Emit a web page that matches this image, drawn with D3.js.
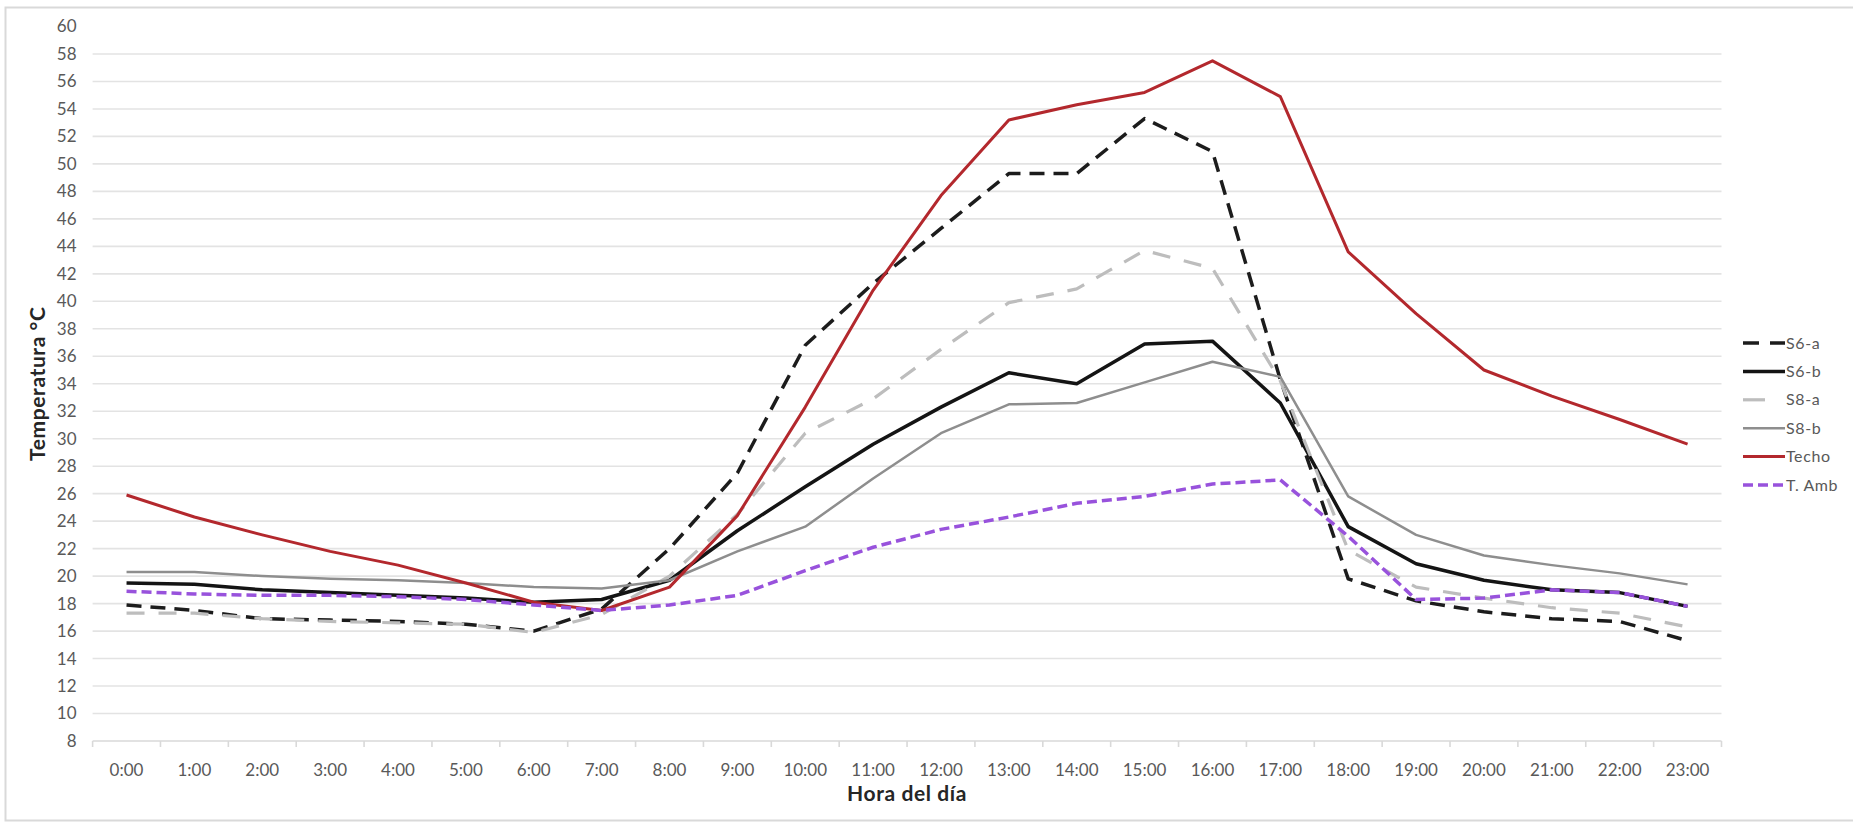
<!DOCTYPE html>
<html>
<head>
<meta charset="utf-8">
<script src="https://cdn.jsdelivr.net/npm/d3@7/dist/d3.min.js"></script>
<style>
  html, body { margin: 0; padding: 0; background: #ffffff; }
  svg { display: block; }
  text { font-family: Lato, "Open Sans", sans-serif; }
</style>
</head>
<body>
<svg id="chart" width="1853" height="822"></svg>
<script>
const hours = ["0:00","1:00","2:00","3:00","4:00","5:00","6:00","7:00","8:00","9:00","10:00","11:00",
               "12:00","13:00","14:00","15:00","16:00","17:00","18:00","19:00","20:00","21:00","22:00","23:00"];
const yTicks = [8,10,12,14,16,18,20,22,24,26,28,30,32,34,36,38,40,42,44,46,48,50,52,54,56,58,60];

const s6a   = [17.9,17.5,16.9,16.8,16.7,16.5,16.0,17.6,22.0,27.5,36.8,41.3,45.3,49.3,49.3,53.3,50.9,34.3,19.8,18.2,17.4,16.9,16.7,15.3];
const s6b   = [19.5,19.4,19.0,18.8,18.6,18.4,18.1,18.3,19.7,23.3,26.5,29.6,32.3,34.8,34.0,36.9,37.1,32.6,23.6,20.9,19.7,19.0,18.8,17.8];
const s8a   = [17.3,17.3,16.9,16.7,16.6,16.5,15.9,17.2,20.0,24.5,30.4,32.9,36.5,39.9,40.9,43.7,42.4,34.2,21.9,19.2,18.4,17.7,17.3,16.3];
const s8b   = [20.3,20.3,20.0,19.8,19.7,19.5,19.2,19.1,19.7,21.8,23.6,27.1,30.4,32.5,32.6,34.1,35.6,34.5,25.8,23.0,21.5,20.8,20.2,19.4];
const techo = [25.9,24.3,23.0,21.8,20.8,19.5,18.1,17.5,19.2,24.4,32.3,40.8,47.7,53.2,54.3,55.2,57.5,54.9,43.6,39.1,35.0,33.1,31.4,29.6];
const tamb  = [18.9,18.7,18.6,18.6,18.5,18.3,17.9,17.5,17.9,18.6,20.4,22.1,23.4,24.3,25.3,25.8,26.7,27.0,22.9,18.3,18.4,19.0,18.8,17.8];

const seriesNames = ["S6-a","S6-b","S8-a","S8-b","Techo","T. Amb"];
const seriesValues = [s6a, s6b, s8a, s8b, techo, tamb];
const seriesStyles = [
  {color:"#1c1c1c", width:3.5, dash:"15,9",  legendDash:"16,11"},
  {color:"#141414", width:3.5, dash:null,    legendDash:null},
  {color:"#bdbdbd", width:3.2, dash:"18,14", legendDash:"22,20"},
  {color:"#8e8e8e", width:2.5, dash:null,    legendDash:null},
  {color:"#b3282d", width:3,   dash:null,    legendDash:null},
  {color:"#9852dc", width:3.5, dash:"10,5",  legendDash:"10,5"}
];

const svg = d3.select("#chart");
const W = 1853, H = 822;
const plot = {left: 92.6, right: 1721.5, top: 26.5, bottom: 741};

// outer border
svg.append("rect")
  .attr("x", 5.5).attr("y", 7.5)
  .attr("width", W + 10).attr("height", 813)
  .attr("fill", "none").attr("stroke", "#d9d9d9").attr("stroke-width", 2);

const x = d3.scaleBand().domain(hours).range([plot.left, plot.right]).padding(0);
const y = d3.scaleLinear().domain([8, 60]).range([plot.bottom, plot.top]);

// gridlines
svg.append("g").selectAll("line")
  .data(yTicks.filter(v => v > 8 && v < 60))
  .join("line")
  .attr("x1", plot.left).attr("x2", plot.right)
  .attr("y1", d => y(d)).attr("y2", d => y(d))
  .attr("stroke", "#e3e3e3").attr("stroke-width", 1.6);

// y axis labels
const yAxis = svg.append("g")
  .attr("transform", `translate(${plot.left},0)`)
  .call(d3.axisLeft(y).tickValues(yTicks).tickSize(0).tickPadding(16).tickFormat(d3.format("d")));
yAxis.select(".domain").remove();
yAxis.selectAll("text").attr("fill", "#595959").style("font-size", "17px");

// x axis
const xAxis = svg.append("g")
  .attr("transform", `translate(0,${plot.bottom})`)
  .call(d3.axisBottom(x).tickSize(0).tickPadding(23));
xAxis.select(".domain").remove();
xAxis.selectAll("text").attr("fill", "#595959").style("font-size", "17px");

svg.append("line")
  .attr("x1", plot.left).attr("x2", plot.right)
  .attr("y1", plot.bottom).attr("y2", plot.bottom)
  .attr("stroke", "#d9d9d9").attr("stroke-width", 1.6);

const boundaries = hours.map(h => x(h)).concat([x(hours[hours.length-1]) + x.bandwidth()]);
svg.append("g").selectAll("line")
  .data(boundaries)
  .join("line")
  .attr("x1", d => d).attr("x2", d => d)
  .attr("y1", plot.bottom).attr("y2", plot.bottom + 6)
  .attr("stroke", "#d9d9d9").attr("stroke-width", 1.6);

// series
const line = d3.line()
  .x((d, i) => x(hours[i]) + x.bandwidth() / 2)
  .y(d => y(d));

seriesValues.forEach((vals, k) => {
  const st = seriesStyles[k];
  const p = svg.append("path")
    .datum(vals)
    .attr("d", line)
    .attr("fill", "none")
    .attr("stroke", st.color)
    .attr("stroke-width", st.width)
    .attr("stroke-linejoin", "round");
  if (st.dash) p.attr("stroke-dasharray", st.dash);
});

// axis titles
svg.append("text")
  .attr("x", (plot.left + plot.right) / 2).attr("y", 801)
  .attr("text-anchor", "middle")
  .attr("fill", "#262626")
  .style("font-size", "21px").style("font-weight", "bold").style("letter-spacing", "0.6px")
  .text("Hora del día");

svg.append("text")
  .attr("transform", `translate(45,${(plot.top + plot.bottom) / 2}) rotate(-90)`)
  .attr("text-anchor", "middle")
  .attr("fill", "#262626")
  .style("font-size", "21px").style("font-weight", "bold").style("letter-spacing", "0.6px")
  .text("Temperatura °C");

// legend
const legend = svg.append("g");
const legY0 = 343, legStep = 28.4;
seriesNames.forEach((name, k) => {
  const st = seriesStyles[k];
  const yy = legY0 + k * legStep;
  const l = legend.append("line")
    .attr("x1", 1743).attr("x2", 1785)
    .attr("y1", yy).attr("y2", yy)
    .attr("stroke", st.color)
    .attr("stroke-width", st.width);
  if (st.legendDash) l.attr("stroke-dasharray", st.legendDash);
  legend.append("text")
    .attr("x", 1786).attr("y", yy + 5.5)
    .attr("fill", "#595959")
    .style("font-size", "16px").style("letter-spacing", "0.6px")
    .text(name);
});
</script>
</body>
</html>
